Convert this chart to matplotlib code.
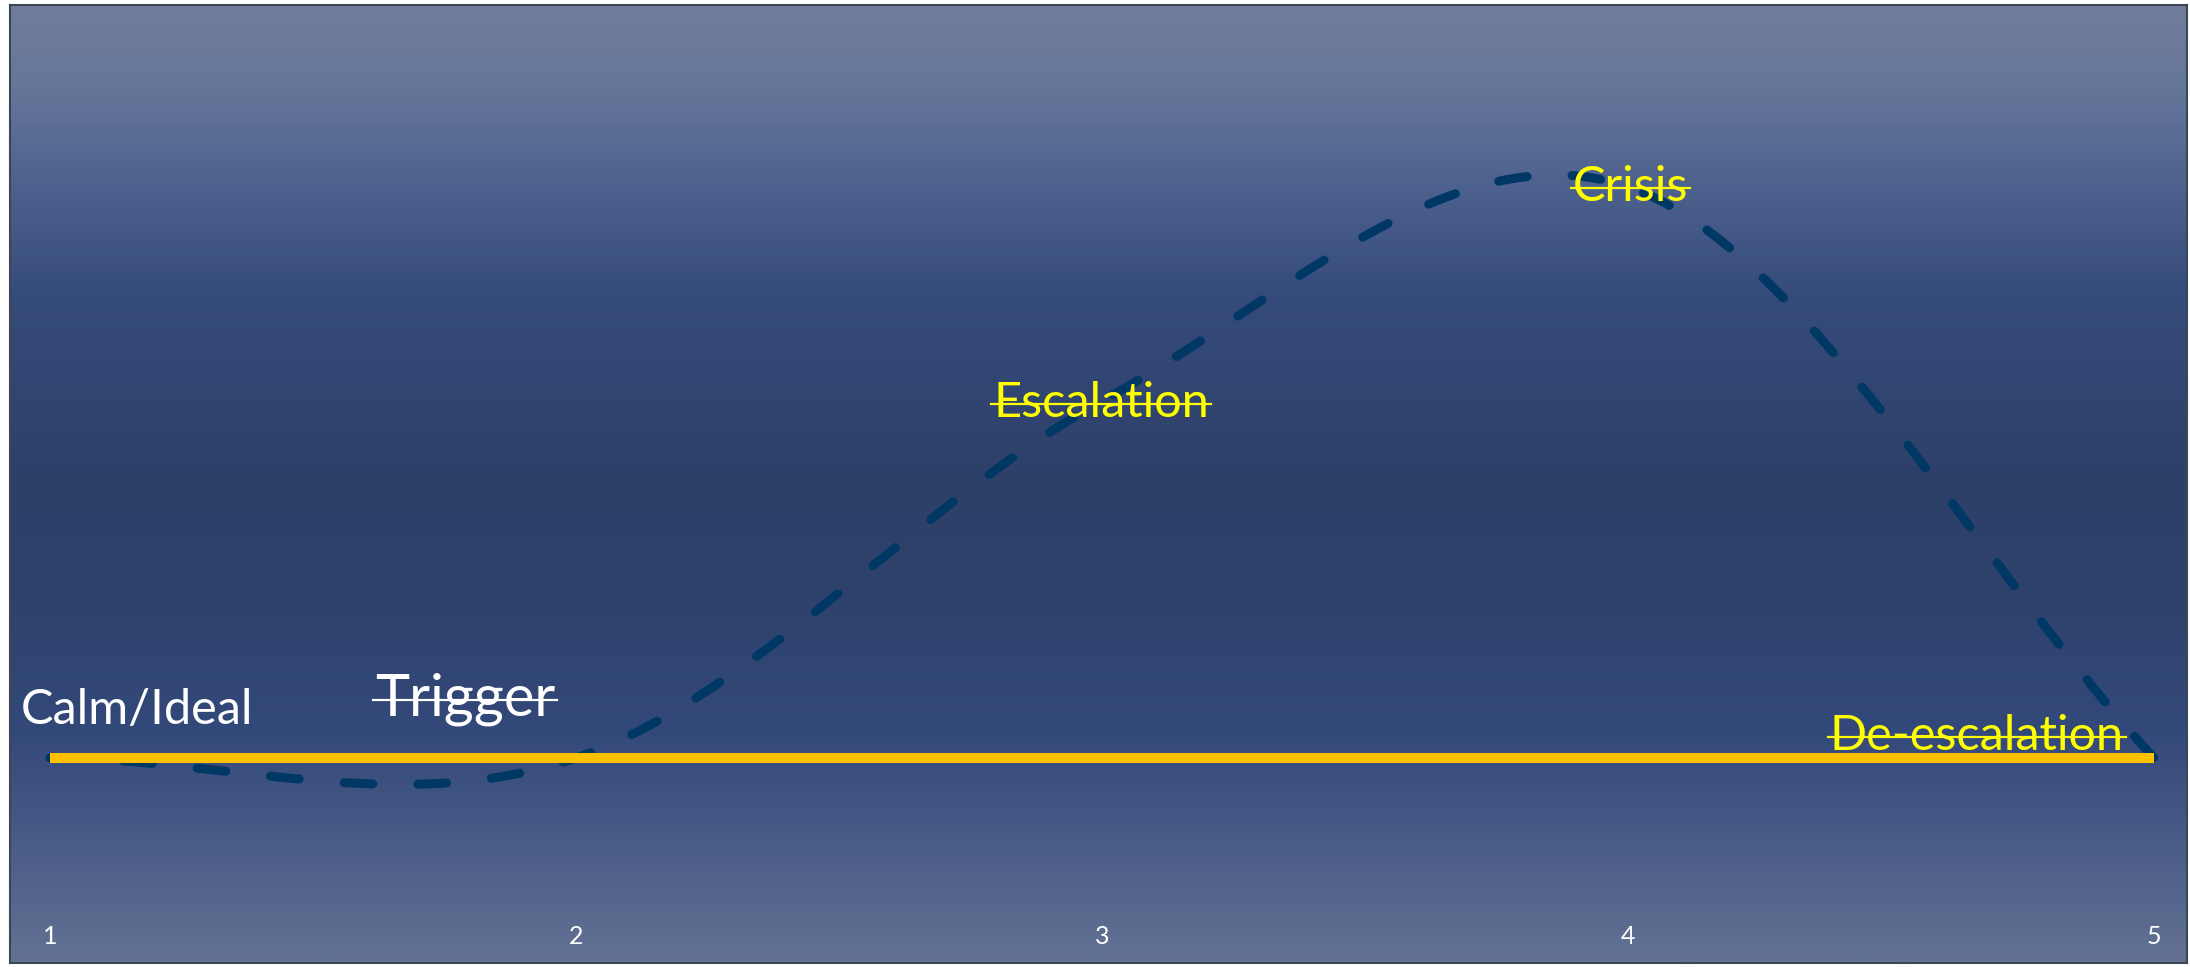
import numpy as np
import matplotlib.pyplot as plt
from matplotlib.colors import LinearSegmentedColormap
from matplotlib.lines import Line2D

# stages of the curve (category axis 1..5)
stages = [1, 2, 3, 4, 5]
intensity = [0, 0, 5, 8, 0]
baseline = [0, 0, 0, 0, 0]

labels = ["Calm/Ideal", "Trigger", "Escalation", "Crisis", "De-escalation"]
label_x = [0.945, 1.618, 2.793, 3.895, 4.384]
label_y = [0.476, 0.60, 4.78, 7.80, 0.11]
label_size = [35, 41.5, 35, 35, 35]
label_col = ["white", "white", "#ffff00", "#ffff00", "#ffff00"]
label_strike = [False, True, True, True, True]

W, H = 2190, 967
PX_X = 526.0   # pixels per category
PX_Y = 71.4    # pixels per unit
Y0 = 758       # pixel row of y=0
AX_BOTTOM = 918


def smooth(xs, ys, n=60):
    # excel-like smoothed line (cardinal spline through the points)
    xs = np.asarray(xs, float)
    ys = np.asarray(ys, float)
    m = np.zeros_like(ys)
    m[1:-1] = (ys[2:] - ys[:-2]) / 2
    m[0] = ys[1] - ys[0]
    m[-1] = ys[-1] - ys[-2]
    ox, oy = [], []
    for i in range(len(xs) - 1):
        t = np.linspace(0, 1, n)
        h00 = 2 * t**3 - 3 * t**2 + 1
        h10 = t**3 - 2 * t**2 + t
        h01 = -2 * t**3 + 3 * t**2
        h11 = t**3 - t**2
        ox.append(xs[i] + t * (xs[i + 1] - xs[i]))
        oy.append(h00 * ys[i] + h10 * m[i] + h01 * ys[i + 1] + h11 * m[i + 1])
    return np.concatenate(ox), np.concatenate(oy)


fig = plt.figure(figsize=(W / 100, H / 100), dpi=100)
fig.patch.set_facecolor("white")

# background panel with vertical gradient
fl, fr, ft, fb = 10, 2187, 5, 963
bg = fig.add_axes([fl / W, 1 - fb / H, (fr - fl) / W, (fb - ft) / H])
cmap = LinearSegmentedColormap.from_list("bg", [
    (0.0, "#717c9a"), (0.08, "#66779a"), (0.2, "#4a5f8c"), (0.3, "#354b7b"),
    (0.5, "#2d4068"), (0.62, "#2e426c"), (0.76, "#33497a"), (0.88, "#4a5c88"),
    (1.0, "#637293")])
grad = np.linspace(0, 1, 400).reshape(-1, 1)
bg.imshow(grad, aspect="auto", cmap=cmap, extent=[0, 1, 1, 0])
bg.set_xticks([])
bg.set_yticks([])
for s in bg.spines.values():
    s.set_color("#3c4654")
    s.set_linewidth(1.5)

ax = fig.add_axes([0, 1 - AX_BOTTOM / H, 1, AX_BOTTOM / H])
ax.patch.set_alpha(0)
ax.set_xlim(1 - 50 / PX_X, 1 + (W - 50) / PX_X)
ax.set_ylim(-(AX_BOTTOM - Y0) / PX_Y, Y0 / PX_Y)
for s in ax.spines.values():
    s.set_visible(False)
ax.set_yticks([])
ax.set_xticks(stages)
ax.set_xticklabels([str(s) for s in stages], fontfamily="Lato", fontsize=18, color="white")
ax.tick_params(axis="x", length=0, pad=5)

sx, sy = smooth(stages, intensity)
lw = 9 * 72 / 100
ax.plot(sx, sy, color="#003865", lw=lw, linestyle=(0, (3.2, 5.0)),
        dash_capstyle="round", zorder=2)
ax.plot(stages, baseline, color="#ffc000", lw=10 * 72 / 100,
        solid_capstyle="butt", zorder=3)

texts = []
for name, x, y, fs, c in zip(labels, label_x, label_y, label_size, label_col):
    t = ax.text(x, y, name, fontfamily="Lato", fontsize=fs, color=c,
                ha="left", va="baseline", zorder=4)
    texts.append(t)

fig.canvas.draw()
r = fig.canvas.get_renderer()
for t, st, fs, c in zip(texts, label_strike, label_size, label_col):
    if not st:
        continue
    bb = t.get_window_extent(r)
    bx, by = ax.transData.transform(t.get_position())
    ys = by + 0.267 * fs * 100 / 72
    fig.add_artist(Line2D([(bb.x0 - 2) / W, (bb.x1 + 2) / W], [ys / H, ys / H],
                          color=c, lw=2.2 * 72 / 100))

fig.savefig("out.png", dpi=100, facecolor="white")
